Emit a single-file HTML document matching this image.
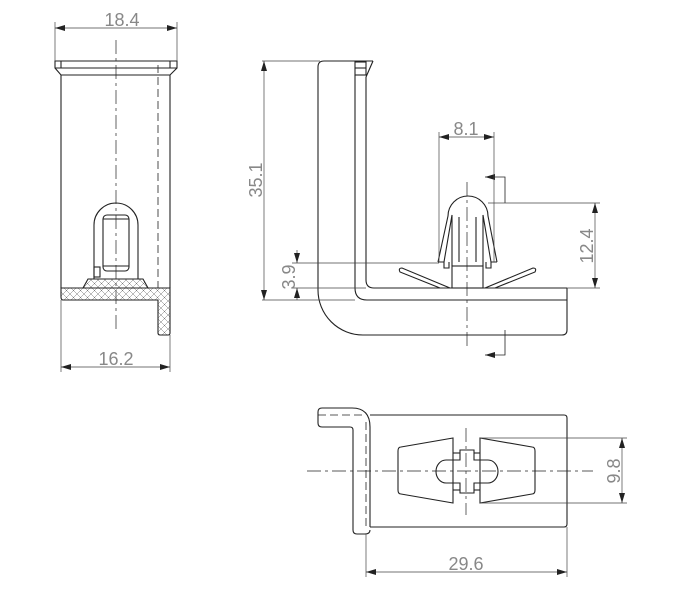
<!DOCTYPE html>
<html><head><meta charset="utf-8"><style>html,body{margin:0;padding:0;background:#fff}svg{display:block}</style></head><body>
<svg width="685" height="600" viewBox="0 0 685 600" xmlns="http://www.w3.org/2000/svg" font-family="Liberation Sans, sans-serif">
<defs>
<pattern id="h" width="7" height="7" patternUnits="userSpaceOnUse"><path d="M0 0L7 7M7 0L0 7" stroke="#777" stroke-width="0.5"/></pattern>
<marker id="a" viewBox="0 0 10 6" refX="10" refY="3" markerWidth="10" markerHeight="6" orient="auto-start-reverse" markerUnits="userSpaceOnUse"><path d="M0 0L10 3L0 6z" fill="#222"/></marker>
</defs>
<g fill="none" stroke="#222" stroke-width="1.1">
<path d="M55 61H177V68L170 75H61L55 68Z"/>
<line x1="61" y1="61" x2="61" y2="68"/><line x1="170" y1="61" x2="170" y2="68"/>
<line x1="55" y1="68" x2="177" y2="68"/>
<line x1="61" y1="75" x2="61" y2="288"/><line x1="170" y1="75" x2="170" y2="288"/>
<line x1="158" y1="65" x2="158" y2="288" stroke-dasharray="8,4" stroke-width="0.8"/>
<line x1="116" y1="40" x2="116" y2="330" stroke-dasharray="14,4,3,4" stroke-width="0.7"/>
<path d="M61 288H170V333Q170 335 168 335H160Q158 335 158 333V300H63Q61 300 61 297Z" fill="url(#h)"/>
<path d="M83 288L88 279H143L148 288Z" fill="url(#h)"/>
<line x1="88" y1="279" x2="143" y2="279"/>
<path d="M94 279V225A22 22 0 0 1 138 225V279"/>
<rect x="103" y="215" width="26" height="56" rx="4"/>
<line x1="103" y1="219" x2="129" y2="219"/><line x1="103" y1="266" x2="129" y2="266"/>
<rect x="94" y="267" width="6" height="10"/>
<g stroke-width="0.7" stroke="#444">
<line x1="55" y1="22" x2="55" y2="61"/><line x1="177" y1="22" x2="177" y2="61"/>
<line x1="55" y1="28" x2="177" y2="28" marker-start="url(#a)" marker-end="url(#a)"/>
<line x1="61" y1="300" x2="61" y2="372"/><line x1="170" y1="335" x2="170" y2="372"/>
<line x1="61" y1="367" x2="170" y2="367" marker-start="url(#a)" marker-end="url(#a)"/>
</g>
<path d="M373 61H324Q318 61 318 67V290A45 45 0 0 0 363 335H562Q567 335 567 330V288"/>
<path d="M373 61L366 77"/>
<rect x="355" y="62" width="11" height="13"/>
<line x1="355" y1="68" x2="366" y2="68"/>
<path d="M355 75V288Q355 300 367 300H567"/>
<path d="M366 77V280Q366 288 374 288H567"/>
<path d="M438 262L448 216A20 20 0 0 1 488 216L497 262"/>
<path d="M438 262H444V268H449V262"/>
<path d="M497 262H491V268H486V262"/>
<path d="M444 262L452 215V266"/><path d="M491 262L483 215V266"/>
<line x1="459" y1="217" x2="459" y2="262"/><line x1="476" y1="217" x2="476" y2="262"/>
<rect x="452" y="266" width="31" height="22"/>
<path d="M450 288L402 268Q398 268 400 272L440 288"/>
<path d="M485 288L533 268Q537 268 535 272L495 288"/>
<line x1="467" y1="182" x2="467" y2="347" stroke-dasharray="14,4,3,4" stroke-width="0.7"/>
<g stroke-width="0.8">
<path d="M505 203V177H485" marker-end="url(#a)"/>
<path d="M505 330V355H485" marker-end="url(#a)"/>
</g>
<g stroke-width="0.7" stroke="#444">
<line x1="262" y1="61" x2="320" y2="61"/><line x1="262" y1="300" x2="355" y2="300"/>
<line x1="264" y1="61" x2="264" y2="300" marker-start="url(#a)" marker-end="url(#a)"/>
<line x1="439" y1="132" x2="439" y2="262"/><line x1="494" y1="132" x2="494" y2="262"/>
<line x1="439" y1="137" x2="494" y2="137" marker-start="url(#a)" marker-end="url(#a)"/>
<line x1="488" y1="203" x2="600" y2="203"/><line x1="567" y1="288" x2="600" y2="288"/>
<line x1="595" y1="203" x2="595" y2="288" marker-start="url(#a)" marker-end="url(#a)"/>
<line x1="292" y1="263" x2="439" y2="263"/><line x1="292" y1="288" x2="366" y2="288"/>
<line x1="297" y1="250" x2="297" y2="263" marker-end="url(#a)"/>
<line x1="297" y1="300" x2="297" y2="288" marker-end="url(#a)"/>
</g>
<path d="M370 415H564Q567 415 567 418V524Q567 527 564 527H370"/>
<path d="M370 527V427Q370 408 352 408H322Q318 408 318 412V423Q318 427 322 427H350Q353 427 353 430V530Q353 534 357 534H365Q370 534 370 530"/>
<line x1="366" y1="422" x2="366" y2="527" stroke-dasharray="8,4" stroke-width="0.8"/>
<line x1="318" y1="415" x2="366" y2="415" stroke-dasharray="8,4" stroke-width="0.8"/>
<path d="M401 447L453 438V503L401 494Q398 494 398 490V451Q398 447 401 447Z"/>
<path d="M532 447L480 438V503L532 494Q535 494 535 490V451Q535 447 532 447Z"/>
<path d="M460 460V450H474V460H488A10 11.5 0 0 1 488 483H474V493H460V483H446A10 11.5 0 0 1 446 460Z"/>
<line x1="453" y1="453" x2="460" y2="453"/><line x1="474" y1="453" x2="480" y2="453"/>
<line x1="453" y1="490" x2="460" y2="490"/><line x1="474" y1="490" x2="480" y2="490"/>
<line x1="307" y1="471" x2="593" y2="471" stroke-dasharray="14,4,3,4" stroke-width="0.7"/>
<line x1="466" y1="428" x2="466" y2="515" stroke-dasharray="14,4,3,4" stroke-width="0.7"/>
<g stroke-width="0.7" stroke="#444">
<line x1="480" y1="438" x2="627" y2="438"/><line x1="480" y1="503" x2="627" y2="503"/>
<line x1="622" y1="438" x2="622" y2="503" marker-start="url(#a)" marker-end="url(#a)"/>
<line x1="366" y1="534" x2="366" y2="577"/><line x1="567" y1="527" x2="567" y2="577"/>
<line x1="366" y1="572" x2="567" y2="572" marker-start="url(#a)" marker-end="url(#a)"/>
</g>
</g>
<g fill="#888" font-size="18" text-anchor="middle">
<text x="122" y="26">18.4</text>
<text x="116" y="365">16.2</text>
<text x="466" y="135">8.1</text>
<text x="466" y="570">29.6</text>
<text transform="translate(262 180) rotate(-90)">35.1</text>
<text transform="translate(593 246) rotate(-90)">12.4</text>
<text transform="translate(295 277) rotate(-90)">3.9</text>
<text transform="translate(620 471) rotate(-90)">9.8</text>
</g>
</svg>
</body></html>
